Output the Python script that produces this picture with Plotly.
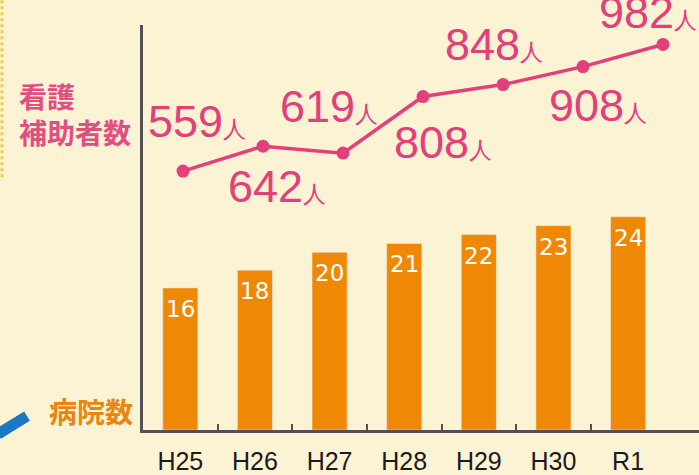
import plotly.graph_objects as go

years = ["H25", "H26", "H27", "H28", "H29", "H30", "R1"]
hospitals = [16, 18, 20, 21, 22, 23, 24]
assistants = [559, 642, 619, 808, 848, 908, 982]
title_assist = "看護<br>補助者数"
title_hosp = "病院数"
unit = "人"

BG = "#FCF2D4"
PINK = "#E2407A"
ORANGE = "#EF8905"
AXIS = "#555055"

# label offsets (px) for line labels: (xshift, yshift)
label_off = [(14, 50), (14, -40), (-14, 47), (20, -46), (-9, 40), (15, -39), (-15, 32)]

fig = go.Figure()

fig.add_trace(go.Bar(
    x=years, y=hospitals, marker_color=ORANGE, width=0.47,
    xaxis="x", yaxis="y", hoverinfo="skip", showlegend=False,
))

fig.add_trace(go.Scatter(
    x=years, y=assistants, mode="lines+markers",
    line=dict(color=PINK, width=3.5), marker=dict(color=PINK, size=13),
    xaxis="x2", yaxis="y2", hoverinfo="skip", showlegend=False, cliponaxis=False,
))

# empty trace so the boundary-tick axis is drawn
fig.add_trace(go.Scatter(x=[], y=[], xaxis="x3", yaxis="y", showlegend=False, hoverinfo="skip"))

annotations = []
for c, v in zip(years, hospitals):
    annotations.append(dict(
        x=c, y=v, xref="x", yref="y", text=str(v), showarrow=False,
        yanchor="top", yshift=-6,
        font=dict(family="DejaVu Sans", size=23, color="white"),
    ))
for (c, v), (dx, dy) in zip(zip(years, assistants), label_off):
    annotations.append(dict(
        x=c, y=v, xref="x2", yref="y2",
        text=f"{v}<span style='font-size:23px'>{unit}</span>",
        showarrow=False, xshift=dx, yshift=dy,
        font=dict(family="Liberation Sans, Arial, sans-serif", size=45, color=PINK),
    ))

W, H = 699, 475
L, R, T, B = 143, 0, 25, 42
pw, ph = W - L - R, H - T - B

def px(xp):
    return (xp - L) / pw

def py(yp):
    return (H - B - yp) / ph

annotations.append(dict(
    x=px(17), y=py(115), xref="paper", yref="paper", text=title_assist,
    xanchor="left", yanchor="middle", align="left", showarrow=False,
    font=dict(family="Noto Sans CJK JP", size=28, color="#E04E82", weight="bold"),
))
annotations.append(dict(
    x=px(135), y=py(414), xref="paper", yref="paper", text=title_hosp,
    xanchor="right", yanchor="middle", align="right", showarrow=False,
    font=dict(family="Noto Sans CJK JP", size=28, color="#EA8510", weight="bold"),
))

shapes = [
    dict(type="line", xref="paper", yref="paper", x0=px(2), x1=px(2), y0=py(0), y1=py(180),
         line=dict(color="#F5CF2A", width=3, dash="dot")),
    dict(type="line", xref="paper", yref="paper", x0=px(-2), x1=px(27), y0=py(437), y1=py(419),
         line=dict(color="#1A78C4", width=11)),
]

fig.update_layout(
    width=W, height=H,
    margin=dict(l=L, r=R, t=T, b=B),
    paper_bgcolor=BG, plot_bgcolor=BG,
    annotations=annotations, shapes=shapes,
    xaxis=dict(type="category", categoryorder="array", categoryarray=years,
               range=[-0.5, 6.95], showline=True, linecolor=AXIS, linewidth=3,
               ticks="", showgrid=False, zeroline=False,
               tickfont=dict(family="Liberation Sans, Arial, sans-serif", size=25, color="#1A1A1A"),
               ticklabelstandoff=7),
    xaxis2=dict(type="category", categoryorder="array", categoryarray=years,
                range=[-0.5, 6.45], overlaying="x", visible=False),
    xaxis3=dict(range=[-0.5, 6.95], overlaying="x", anchor="y", side="bottom",
                tickvals=[i + 0.5 for i in range(len(years) - 1)],
                ticks="inside", ticklen=6, tickwidth=2, tickcolor=AXIS,
                showticklabels=False, showgrid=False, zeroline=False, showline=False),
    yaxis=dict(range=[0, 45.6], showline=True, linecolor=AXIS, linewidth=3,
               showticklabels=False, ticks="", showgrid=False, zeroline=False),
    yaxis2=dict(range=[-306, 1047], overlaying="y", visible=False),
    bargap=0.5,
)

fig.write_html(
    "out.html",
    config={"displayModeBar": False},
    post_script="document.body.style.margin='0';document.body.style.overflow='hidden';",
)
